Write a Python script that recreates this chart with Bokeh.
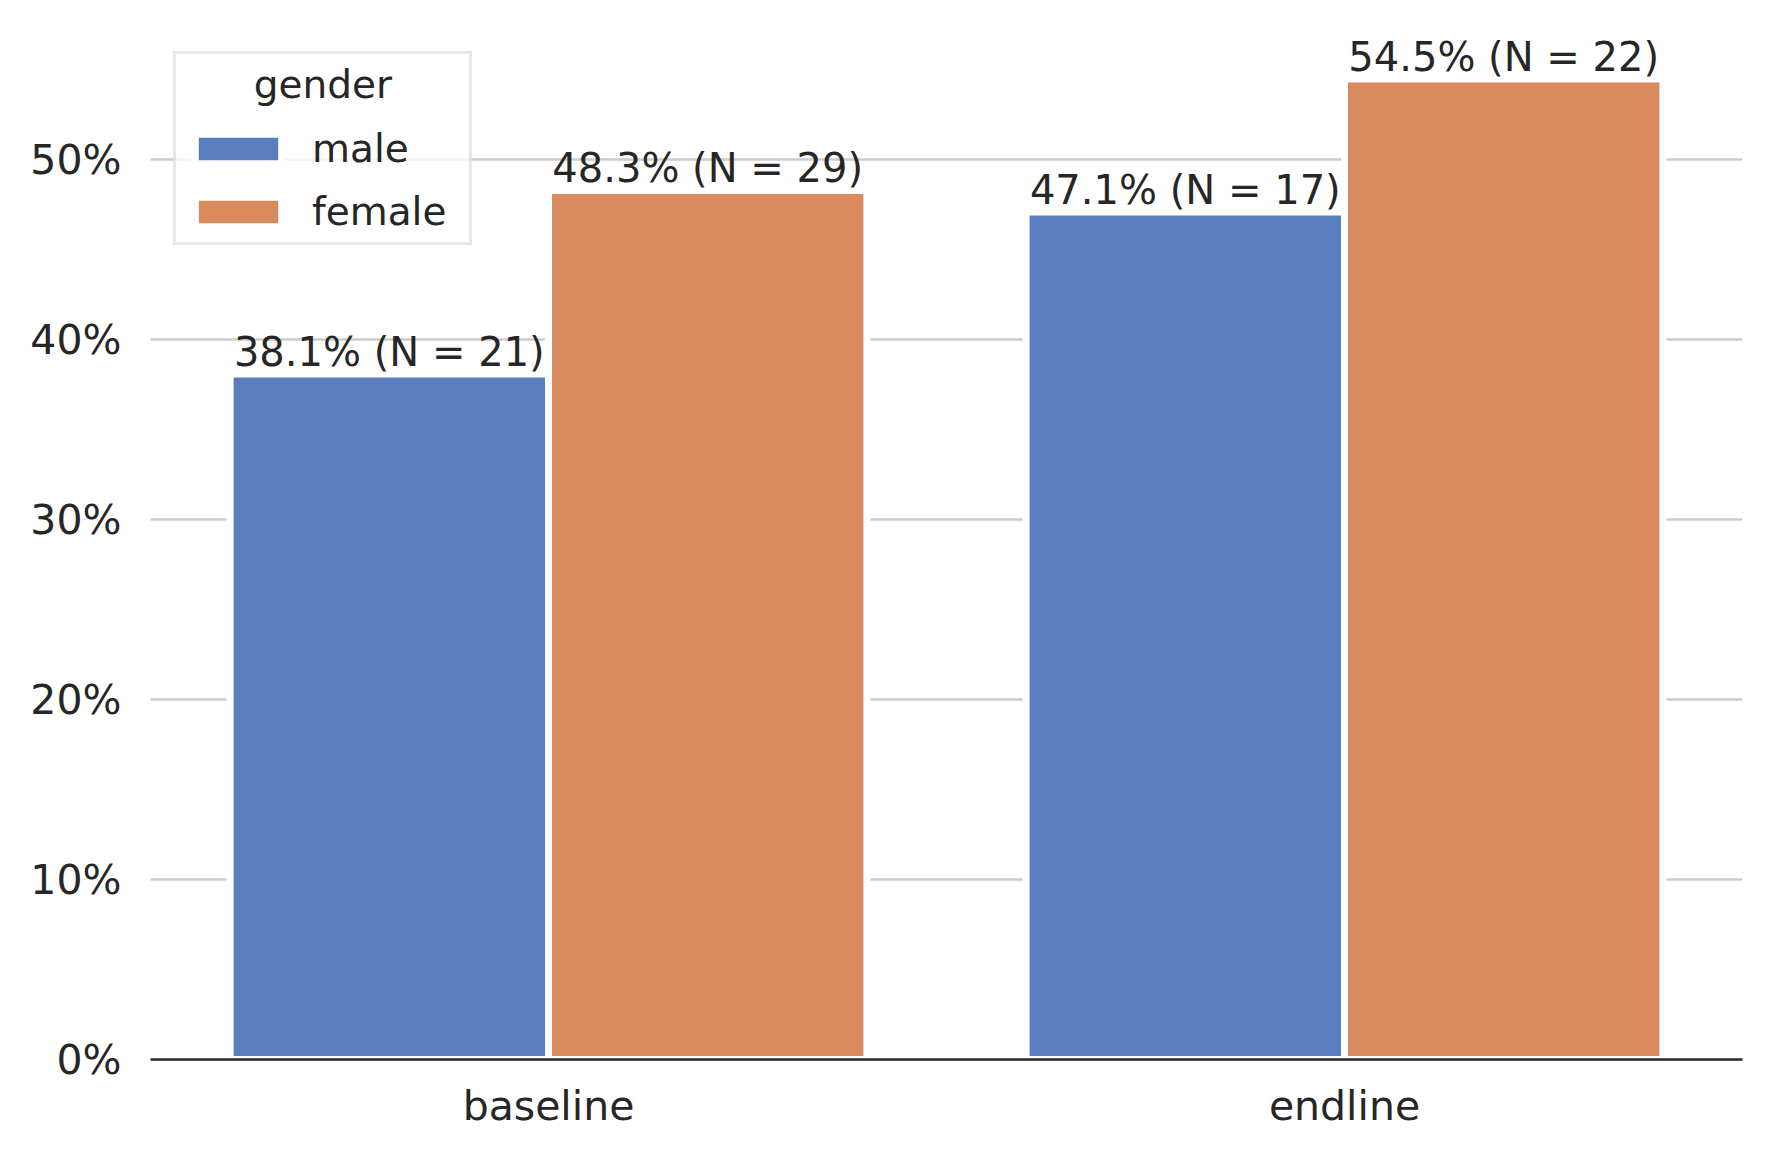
from bokeh.plotting import figure
from bokeh.models import (ColumnDataSource, NumeralTickFormatter, FixedTicker,
                          Legend, LegendItem, FactorRange, Range1d)
from bokeh.transform import dodge
from bokeh.embed import file_html
from bokeh.resources import INLINE
from bokeh.core.properties import value

# ---- data ----
rounds = ["baseline", "endline"]
genders = ["male", "female"]
male_pct = [0.381, 0.471]
female_pct = [0.483, 0.545]
male_n = [21, 17]
female_n = [29, 22]
yticks = [0.0, 0.1, 0.2, 0.3, 0.4, 0.5]
colors = ["#597dbf", "#d98b5f"]
legend_title = "gender"

FONT = "DejaVu Sans"
TXT = "#262626"


def make_labels(pcts, ns):
    return [f"{v * 100:.1f}% (N = {n})" for v, n in zip(pcts, ns)]


male_src = ColumnDataSource(dict(round=rounds, pct=male_pct, label=make_labels(male_pct, male_n)))
female_src = ColumnDataSource(dict(round=rounds, pct=female_pct, label=make_labels(female_pct, female_n)))

p = figure(width=1754, height=1143, output_backend="svg", toolbar_location=None,
           x_range=FactorRange(*rounds), y_range=Range1d(0, 0.573),
           min_border_left=150, min_border_right=12, min_border_top=28, min_border_bottom=84)
p.outline_line_color = None
p.background_fill_color = "white"

bar_kw = dict(width=0.4, line_color="white", line_width=7)
male_r = p.vbar(x=dodge("round", -0.2, range=p.x_range), top="pct", source=male_src,
                fill_color=colors[0], **bar_kw)
female_r = p.vbar(x=dodge("round", 0.2, range=p.x_range), top="pct", source=female_src,
                  fill_color=colors[1], **bar_kw)

txt_kw = dict(text="label", text_align="center", text_baseline="alphabetic",
              y_offset=-22, text_font=value(FONT), text_font_size="40px", text_color=TXT)
p.text(x=dodge("round", -0.2, range=p.x_range), y="pct", source=male_src, **txt_kw)
p.text(x=dodge("round", 0.2, range=p.x_range), y="pct", source=female_src, **txt_kw)

# title centred in the legend box by leading non-breaking spaces
legend = Legend(items=[LegendItem(label=genders[0], renderers=[male_r]),
                       LegendItem(label=genders[1], renderers=[female_r])],
                location="top_left", margin=23, padding=8,
                title="\u00a0" * 5 + "\u2009" + legend_title,
                title_text_font=FONT, title_text_font_size="39px",
                title_text_color=TXT, title_text_font_style="normal",
                title_standoff=19,
                label_text_font=FONT, label_text_font_size="39px", label_text_color=TXT,
                label_standoff=20, label_height=37, label_width=149,
                glyph_width=108, glyph_height=37,
                spacing=18, border_line_color="#d0d0d0", border_line_width=3,
                background_fill_color="white", background_fill_alpha=0.8)
p.add_layout(legend)

# axes
p.xaxis.axis_line_color = TXT
p.xaxis.axis_line_width = 2.5
p.xaxis.major_tick_line_color = None
p.xaxis.minor_tick_line_color = None
p.xaxis.major_tick_in = 0
p.xaxis.major_tick_out = 0
p.xaxis.major_label_standoff = 22
p.xaxis.major_label_text_font = FONT
p.xaxis.major_label_text_font_size = "41px"
p.xaxis.major_label_text_color = TXT

p.yaxis.axis_line_color = None
p.yaxis.major_tick_line_color = None
p.yaxis.minor_tick_line_color = None
p.yaxis.major_tick_in = 0
p.yaxis.major_tick_out = 0
p.yaxis.major_label_standoff = 29
p.yaxis.ticker = FixedTicker(ticks=yticks)
p.yaxis.formatter = NumeralTickFormatter(format="0%")
p.yaxis.major_label_text_font = FONT
p.yaxis.major_label_text_font_size = "41px"
p.yaxis.major_label_text_color = TXT

p.xgrid.grid_line_color = None
p.ygrid.grid_line_color = "#cccccc"
p.ygrid.grid_line_width = 2.5

open("out.html", "w").write(file_html(p, INLINE))
